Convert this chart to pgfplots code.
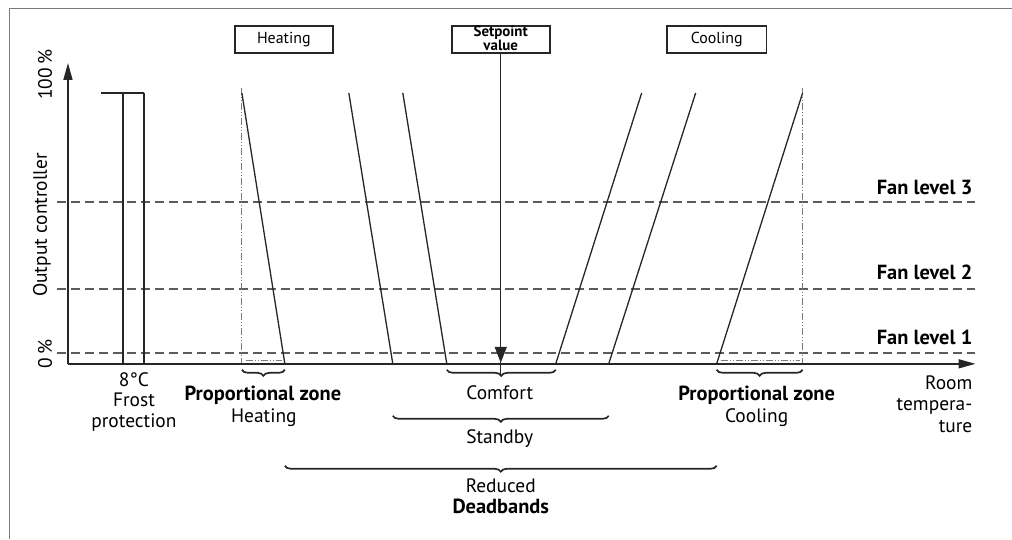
\documentclass[border=0pt]{standalone}
\usepackage{pgfplots}
\pgfplotsset{compat=1.18}
\usepackage{fontspec}
\setmainfont{PT Sans}
\usetikzlibrary{arrows.meta,decorations.pathreplacing}

\definecolor{ln}{HTML}{262626}
\definecolor{dsh}{HTML}{5C5C5C}
\definecolor{fr}{HTML}{7A7A7A}

\newcommand\rg{\fontsize{19.5}{21}\selectfont}
\newcommand\bd{\fontsize{20.5}{22}\selectfont\bfseries}
\newcommand\bx{\fontsize{16}{18}\selectfont}

\tikzset{
  ramp/.style={line width=1.3bp, color=ln, mark=none, solid},
  dashlvl/.style={line width=1.5bp, color=dsh, mark=none, dash pattern=on 9bp off 5bp},
  dashdot/.style={line width=0.9bp, color=fr, mark=none, dash pattern=on 7bp off 2bp on 1bp off 2bp on 1bp off 2bp},
  brc/.style={decorate, decoration={brace, mirror, amplitude=6bp}, line width=1.7bp, color=ln},
}

\begin{document}
\begin{tikzpicture}
\begin{axis}[
  scale only axis, width=1012bp, height=539bp,
  xmin=0, xmax=1012, ymin=0, ymax=539, y dir=reverse,
  hide axis, clip=false,
]
% page extent
\addplot[draw=none, mark=none] coordinates {(0,0)(1012,539)};
% outer frame
\addplot[line width=1bp, color=fr, mark=none] coordinates {(10,539)(10,9)(1012,9)};

% fan levels
\addplot[dashlvl] coordinates {(57,353)(975,353)};
\addplot[dashlvl] coordinates {(57,289)(975,289)};
\addplot[dashlvl] coordinates {(57,202)(975,202)};

% dash-dot limits of the proportional zones
\addplot[dashdot] coordinates {(242,88)(242,364)};
\addplot[dashdot] coordinates {(803,88)(803,364)};
\addplot[dashdot] coordinates {(246,361)(282,361)};
\addplot[dashdot] coordinates {(721,361)(800,361)};

% axes
\addplot[ramp, line width=1.6bp, -{Triangle[length=17bp,width=9bp]}] coordinates {(68,364)(68,63)};
\addplot[ramp, line width=1.6bp, -{Triangle[length=17bp,width=9bp]}] coordinates {(68,364)(976,364)};

% frost protection
\addplot[ramp] coordinates {(101,93)(144,93)};
\addplot[ramp] coordinates {(123,93)(123,364)};
\addplot[ramp] coordinates {(144,93)(144,364)};

% heating ramps
\addplot[ramp] coordinates {(242,93)(285,364)};
\addplot[ramp] coordinates {(349,93)(393,364)};
\addplot[ramp] coordinates {(403,93)(447,364)};
% cooling ramps
\addplot[ramp] coordinates {(642,93)(556,364)};
\addplot[ramp] coordinates {(696,93)(609,364)};
\addplot[ramp] coordinates {(803,93)(717,364)};

% setpoint arrow
\addplot[ramp, -{Triangle[length=16bp,width=12bp]}] coordinates {(501,53)(501,363)};
\addplot[ramp] coordinates {(501,362)(501,376)};

% boxes
\node[draw=ln, line width=1.7bp, minimum width=98bp, minimum height=27bp, inner sep=0pt, font=\bx] at (axis cs:284,39.5) {Heating};
\node[draw=ln, line width=1.7bp, minimum width=98bp, minimum height=27bp, inner sep=0pt] at (axis cs:501,39.5) {};
\node[anchor=base, font=\fontsize{15}{16}\selectfont\bfseries, inner sep=0pt] at (axis cs:501,37) {Setpoint};
\node[anchor=base, font=\fontsize{15}{16}\selectfont\bfseries, inner sep=0pt] at (axis cs:501,50.5) {value};
\node[draw=ln, line width=1.7bp, minimum width=100bp, minimum height=27bp, inner sep=0pt, font=\bx] at (axis cs:717,39.5) {Cooling};

% braces
\draw[brc] (axis cs:242,370) -- (axis cs:285,370);
\draw[brc] (axis cs:447,370) -- (axis cs:556,370);
\draw[brc] (axis cs:393,416) -- (axis cs:609,416);
\draw[brc] (axis cs:285,466) -- (axis cs:717,466);
\draw[brc] (axis cs:717,370) -- (axis cs:803,370);

% y labels
\node[rotate=90, font=\rg] at (axis cs:45,75) {100\,\%};
\node[rotate=90, font=\rg] at (axis cs:45,354) {0\,\%};
\node[rotate=90, font=\rg] at (axis cs:42,225) {Output controller};

% fan level labels
\node[anchor=base east, font=\bd, inner sep=0pt] at (axis cs:973,195) {Fan level 3};
\node[anchor=base east, font=\bd, inner sep=0pt] at (axis cs:973,280) {Fan level 2};
\node[anchor=base east, font=\bd, inner sep=0pt] at (axis cs:973,345) {Fan level 1};

% bottom labels
\node[anchor=base, font=\rg, inner sep=0pt] at (axis cs:134,387) {8°C};
\node[anchor=base, font=\rg, inner sep=0pt] at (axis cs:134,407) {Frost};
\node[anchor=base, font=\rg, inner sep=0pt] at (axis cs:134,428) {protection};

\node[anchor=base, font=\bd, inner sep=0pt] at (axis cs:263,401) {Proportional zone};
\node[anchor=base, font=\rg, inner sep=0pt] at (axis cs:264,423) {Heating};

\node[anchor=base, font=\rg, inner sep=0pt] at (axis cs:500,400) {Comfort};
\node[anchor=base, font=\rg, inner sep=0pt] at (axis cs:500,444) {Standby};
\node[anchor=base, font=\rg, inner sep=0pt] at (axis cs:501,493) {Reduced};
\node[anchor=base, font=\bd, inner sep=0pt] at (axis cs:501,514) {Deadbands};

\node[anchor=base, font=\bd, inner sep=0pt] at (axis cs:757,401) {Proportional zone};
\node[anchor=base, font=\rg, inner sep=0pt] at (axis cs:757,423) {Cooling};

\node[anchor=base east, font=\rg, inner sep=0pt] at (axis cs:973,390) {Room};
\node[anchor=base east, font=\rg, inner sep=0pt] at (axis cs:973,411) {tempera-};
\node[anchor=base east, font=\rg, inner sep=0pt] at (axis cs:973,433) {ture};
\end{axis}
\end{tikzpicture}
\end{document}
